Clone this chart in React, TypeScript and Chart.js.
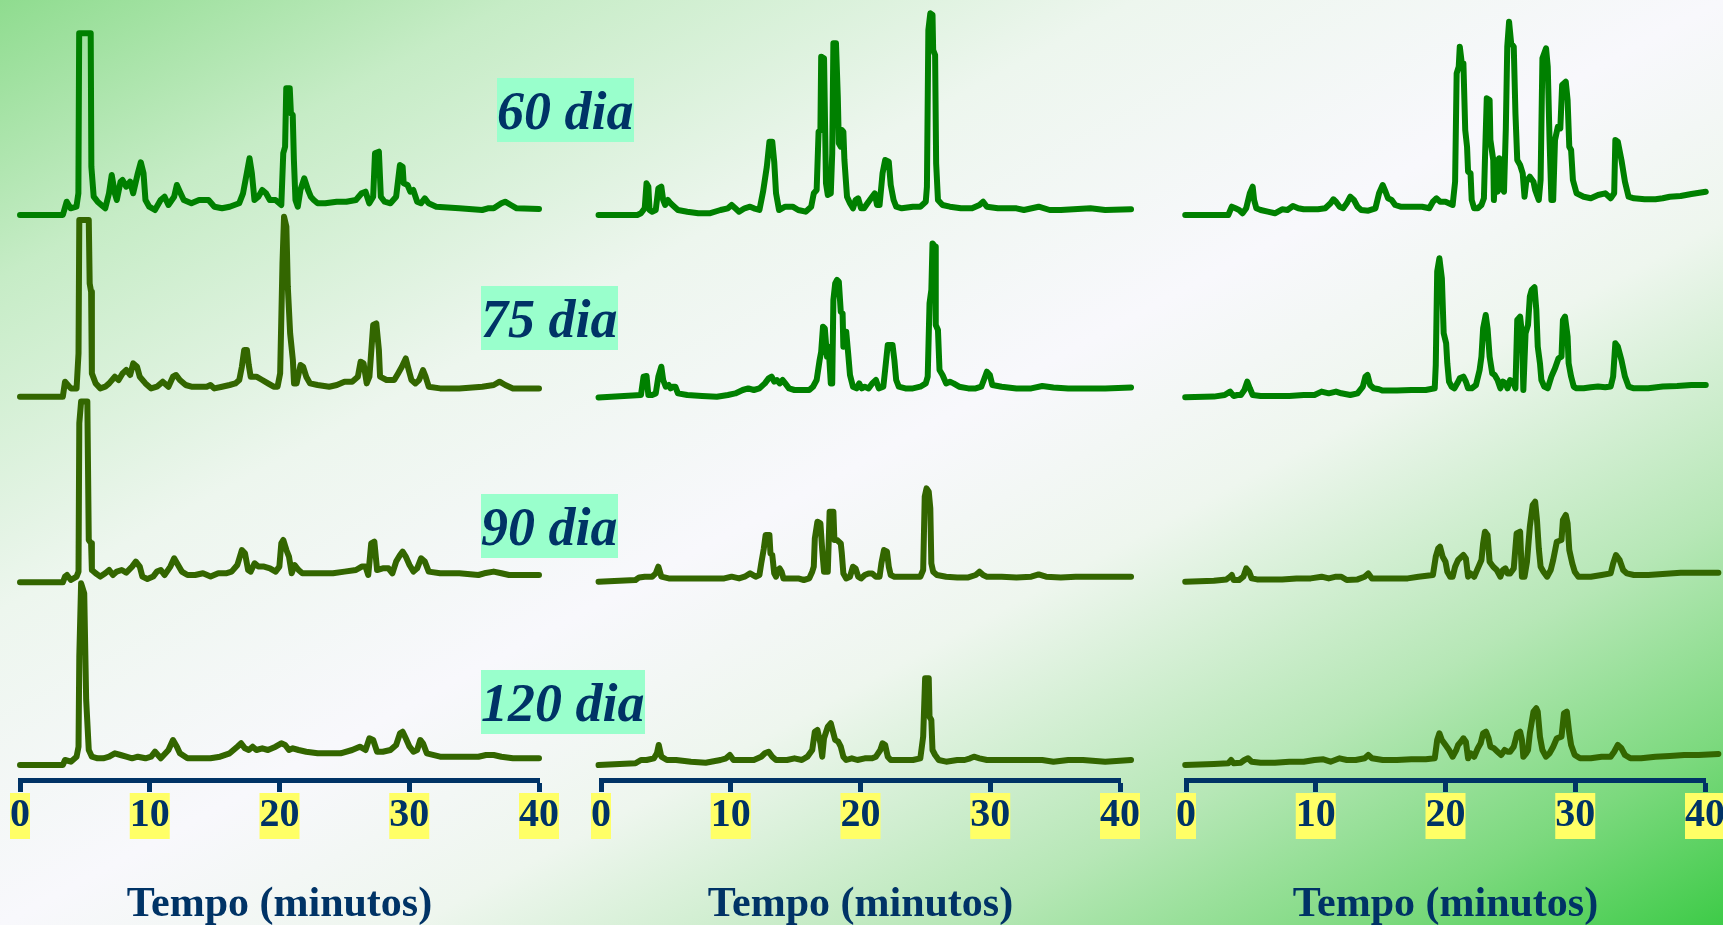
import React, { useEffect, useRef } from "react";
import { Chart, registerables } from "chart.js";

Chart.register(...registerables);

// [tempo (min), intensidade relativa]
type Point = [number, number];

const TEMPO_TICKS = [0, 10, 20, 30, 40];
const AXIS_TITLE = "Tempo (minutos)";
const DAY_LABELS = ["60 dia", "75 dia", "90 dia", "120 dia"];

// ---------- Painel 1 ----------
const P1_D60: Point[] = [
  [0, 0], [3.3, 0], [3.6, 13.3], [3.9, 6.7], [4.35, 8.3], [4.5, 21.7], [4.56, 181.7], [5.45, 181.7], [5.5, 48.3],
  [5.68, 18.3], [5.98, 13.3], [6.27, 10], [6.57, 6.7], [6.86, 21.7], [7.07, 40], [7.31, 21.7], [7.46, 15], [7.75, 33.3],
  [7.9, 35], [8.19, 28.3], [8.49, 33.3], [8.72, 21.7], [9.08, 41.7], [9.31, 52.7], [9.52, 41.7], [9.67, 15], [9.96, 8.3],
  [10.4, 5], [10.84, 15], [11.14, 18.3], [11.44, 10], [11.88, 18.3], [12.09, 30], [12.32, 23.3], [12.62, 15], [13.21, 11.7],
  [13.8, 15], [14.53, 15], [14.98, 8.3], [15.57, 6.7], [16.16, 8.3], [16.89, 11.7], [17.19, 21.7], [17.48, 41.7], [17.69, 56.7],
  [17.87, 41.7], [18.07, 15], [18.37, 18.3], [18.67, 25], [18.96, 21.7], [19.25, 15], [19.69, 15], [20.14, 10], [20.29, 61.7],
  [20.43, 68.3], [20.52, 126.7], [20.79, 126.7], [20.88, 101.7], [21.02, 100], [21.11, 55], [21.23, 15], [21.41, 8.3],
  [21.61, 25], [21.91, 36.7], [22.2, 25], [22.41, 18.3], [22.64, 15], [22.94, 11.7], [23.53, 11.7], [24.41, 13.3],
  [25.15, 13.3], [25.89, 15], [26.33, 21.7], [26.63, 23.3], [26.92, 11.7], [27.22, 18.3], [27.36, 61.7], [27.66, 63.3],
  [27.81, 18.3], [28.1, 13.3], [28.55, 11.7], [28.99, 18.3], [29.28, 50], [29.49, 48.3], [29.57, 31.7], [29.87, 30],
  [30.08, 23.3], [30.31, 25], [30.61, 13.3], [30.9, 11.7], [31.2, 16.7], [31.49, 11.7], [32.08, 8.3], [33.85, 6.7],
  [35.62, 5], [36.06, 6.7], [36.51, 6.7], [37.1, 11.7], [37.39, 13.3], [37.83, 10], [38.28, 6.7], [40, 6],
];

const P1_D75: Point[] = [
  [0, 0], [3.3, 0], [3.47, 15], [3.92, 8.3], [4.36, 8.3], [4.51, 43.3], [4.57, 176.7], [5.3, 176.7], [5.37, 113.3],
  [5.48, 105], [5.54, 23.3], [5.83, 13.3], [6.19, 8.3], [6.57, 10], [6.87, 13.3], [7.31, 20], [7.6, 16.7], [7.9, 23.3],
  [8.19, 26.7], [8.49, 21.7], [8.73, 33.3], [9.02, 30], [9.23, 20], [9.67, 13.3], [10.11, 8.3], [10.55, 10], [11.0, 15],
  [11.44, 10], [11.79, 20], [12.03, 21.7], [12.32, 16.7], [12.77, 11.7], [13.21, 10], [13.8, 10], [14.39, 10], [14.68, 11.7],
  [14.98, 8.3], [15.57, 10], [16.16, 11.7], [16.6, 13.3], [16.9, 16.7], [17.1, 30], [17.28, 46.7], [17.49, 46.7],
  [17.63, 31.7], [17.78, 20], [18.22, 20], [18.67, 16.7], [19.11, 13.3], [19.55, 10], [19.85, 10], [20.05, 23.3],
  [20.23, 133.3], [20.35, 180], [20.53, 170], [20.64, 110], [20.82, 63.3], [21.03, 36.7], [21.12, 13.3], [21.32, 13.3],
  [21.62, 31.7], [21.82, 30], [22.06, 20], [22.35, 13.3], [22.94, 11.7], [23.83, 10], [24.42, 11.7], [25.01, 15],
  [25.6, 15], [26.04, 20], [26.25, 35], [26.48, 33.3], [26.72, 13.3], [26.93, 20], [27.22, 71.7], [27.46, 73.3],
  [27.66, 46.7], [27.75, 20], [28.25, 16.7], [28.84, 16.7], [29.14, 23.3], [29.43, 30], [29.73, 38.3], [29.96, 26.7],
  [30.17, 16.7], [30.47, 13.3], [30.76, 16.7], [31.06, 26.7], [31.26, 20], [31.5, 10], [32.38, 8.3], [33.86, 8.3],
  [35.63, 10], [36.51, 11.7], [36.96, 15], [37.4, 11.7], [37.99, 8.3], [40, 8.3],
];

const P1_D90: Point[] = [
  [0, 0], [3.3, 0], [3.47, 5.7], [3.62, 7.3], [3.92, 2.3], [4.36, 5.7], [4.51, 10.7], [4.57, 159], [4.71, 180.7],
  [5.19, 180.7], [5.3, 42.3], [5.48, 39], [5.54, 12.3], [5.83, 9], [6.19, 5.7], [6.57, 9], [6.87, 12.3], [7.16, 7.3],
  [7.46, 10.7], [7.84, 12.3], [8.19, 9.7], [8.64, 15.7], [8.93, 20.7], [9.23, 15.7], [9.43, 5.7], [9.82, 3.3],
  [10.26, 5.7], [10.55, 10.7], [10.85, 12.3], [11.14, 7.3], [11.59, 15.7], [11.88, 24], [12.18, 17.3], [12.47, 10.7],
  [12.91, 7.3], [13.5, 7.3], [14.1, 9], [14.69, 5.7], [15.28, 9], [15.87, 9], [16.31, 10.7], [16.75, 17.3], [17.1, 32.3],
  [17.34, 29], [17.58, 12.3], [17.78, 10.7], [18.08, 19], [18.37, 15.7], [18.81, 15.7], [19.26, 14], [19.7, 10.7],
  [19.99, 15.7], [20.14, 39], [20.29, 42.3], [20.53, 32.3], [20.73, 25.7], [20.94, 9], [21.17, 17.3], [21.47, 12.3],
  [21.76, 9], [22.35, 9], [23.24, 9], [24.12, 9], [25.01, 10.7], [25.89, 12.3], [26.34, 15.7], [26.63, 15.7], [26.84, 7.3],
  [27.07, 39], [27.31, 40.7], [27.52, 12.3], [27.96, 14], [28.4, 14], [28.7, 9], [28.99, 20.7], [29.29, 27.3],
  [29.49, 30.7], [29.73, 25.7], [30.02, 17.3], [30.32, 10.7], [30.61, 14], [30.91, 24], [31.2, 20.7], [31.5, 10.7],
  [32.38, 9], [33.86, 9], [35.33, 7.3], [35.78, 9], [36.51, 10.7], [37.1, 9], [37.69, 7.3], [40, 7.3],
];

const P1_D120: Point[] = [
  [0, 0], [3.3, 0], [3.47, 5], [3.92, 3.3], [4.36, 8.3], [4.51, 18.3], [4.57, 108.3], [4.71, 181.7], [4.95, 171.7],
  [5.1, 65], [5.3, 15], [5.54, 8.3], [5.98, 6.7], [6.42, 6.7], [6.87, 8.3], [7.31, 11.7], [7.75, 10], [8.19, 8.3],
  [8.64, 6.7], [9.08, 8.3], [9.67, 6.7], [10.11, 8.3], [10.41, 13.3], [10.85, 6.7], [11.44, 15], [11.79, 25], [12.09, 18.3],
  [12.32, 11.7], [12.91, 6.7], [13.8, 6.7], [14.68, 6.7], [15.42, 8.3], [16.16, 11.7], [16.75, 18.3], [17.04, 21.7],
  [17.34, 16.7], [17.63, 15], [17.93, 18.3], [18.22, 15], [18.67, 16.7], [19.11, 15], [19.7, 18.3], [20.14, 21.7],
  [20.44, 20], [20.73, 15], [21.03, 16.7], [21.47, 15], [22.06, 13.3], [22.94, 11.7], [23.83, 11.7], [24.71, 11.7],
  [25.6, 15], [26.19, 18.3], [26.63, 15], [26.93, 26.7], [27.22, 25], [27.52, 13.3], [27.96, 13.3], [28.55, 15],
  [28.99, 20], [29.29, 31.7], [29.49, 33.3], [29.73, 26.7], [30.02, 18.3], [30.32, 13.3], [30.61, 15], [30.85, 25],
  [31.06, 21.7], [31.35, 11.7], [32.38, 8.3], [33.86, 8.3], [35.33, 8.3], [35.92, 10], [36.51, 10], [37.1, 8.3],
  [37.99, 6.7], [40, 6.7],
];

// ---------- Painel 2 ----------
const P2_D60: Point[] = [
  [-0.19, 0], [2.8, 0], [3.08, 1.7], [3.37, 6.7], [3.51, 31.7], [3.65, 28.3], [3.74, 5], [3.94, 3.3], [4.22, 5],
  [4.42, 26.7], [4.65, 28.3], [4.79, 15], [4.94, 10], [5.16, 15], [5.36, 11.7], [5.65, 8.3], [5.93, 5], [6.65, 3.3],
  [7.5, 1.7], [8.36, 1.7], [9.21, 5], [9.78, 6.7], [10.07, 10], [10.35, 6.7], [10.64, 3.3], [11.07, 6.7], [11.49, 8.3],
  [11.78, 6.7], [12.21, 5], [12.49, 23.3], [12.78, 48.3], [12.98, 73.3], [13.2, 73.3], [13.35, 53.3], [13.49, 21.7],
  [13.72, 5], [14.2, 8.3], [14.77, 8.3], [15.2, 5], [15.77, 3.3], [16.2, 8.3], [16.4, 21.7], [16.62, 25], [16.77, 83.3],
  [16.91, 85], [16.97, 158.3], [17.19, 156.7], [17.34, 31.7], [17.48, 20], [17.71, 21.7], [17.82, 61.7], [17.91, 171.7],
  [18.11, 171.7], [18.25, 118.3], [18.33, 71.7], [18.48, 68.3], [18.56, 85], [18.68, 83.3], [18.76, 55], [18.96, 18.3],
  [19.19, 11.7], [19.42, 6.7], [19.62, 15], [19.82, 16.7], [20.04, 6.7], [20.27, 6.7], [20.62, 13.3], [20.9, 18.3],
  [21.1, 21.7], [21.27, 10], [21.47, 10], [21.7, 41.7], [21.9, 55], [22.18, 53.3], [22.33, 30], [22.55, 15], [22.75, 8.3],
  [23.18, 6.7], [24.04, 8.3], [24.61, 8.3], [25.03, 13.3], [25.12, 28.3], [25.23, 185], [25.38, 201.7], [25.55, 200],
  [25.6, 165], [25.75, 160], [25.83, 51.7], [25.97, 15], [26.32, 10], [26.89, 8.3], [27.74, 6.7], [28.6, 6.7],
  [29.17, 10], [29.45, 13.3], [29.74, 8.3], [30.59, 6.7], [31.45, 6.7], [32.02, 6.7], [32.59, 5], [33.73, 8.3],
  [34.58, 5], [35.44, 5], [37.72, 6.7], [38.86, 5], [40.85, 5.7],
];

const P2_D75: Point[] = [
  [-0.19, -0.7], [3.08, 1.7], [3.28, 20], [3.51, 20.7], [3.65, 1.7], [3.94, 1.7], [4.22, 3.3], [4.42, 20], [4.65, 30],
  [4.79, 16.7], [4.99, 10], [5.22, 11.7], [5.36, 8.3], [5.51, 10], [5.73, 10], [5.93, 3.3], [6.65, 1.7], [7.79, 0.7],
  [8.93, 0], [9.78, 1.7], [10.35, 3.3], [10.92, 6.7], [11.35, 8.3], [11.78, 6.7], [12.21, 8.3], [12.63, 13.3],
  [12.92, 18.3], [13.15, 20], [13.35, 15], [13.55, 16.7], [13.77, 13.3], [14.0, 16.7], [14.2, 13.3], [14.49, 8.3],
  [14.91, 6.7], [15.48, 6.7], [16.05, 6.7], [16.34, 10], [16.62, 16.7], [16.85, 36.7], [16.97, 45], [17.11, 70],
  [17.25, 68.3], [17.42, 40], [17.54, 50], [17.71, 13.3], [17.82, 13.3], [17.91, 96.7], [18.05, 113.3], [18.19, 116.7],
  [18.33, 115], [18.48, 85], [18.62, 83.3], [18.68, 50], [18.76, 65], [18.9, 65], [19.05, 43.3], [19.19, 21.7],
  [19.42, 10], [19.7, 8.3], [19.9, 13.3], [20.1, 8.3], [20.33, 10], [20.62, 8.3], [20.9, 13.3], [21.19, 16.7],
  [21.41, 8.3], [21.76, 10], [21.98, 36.7], [22.1, 51.7], [22.47, 51.7], [22.61, 36.7], [22.75, 16.7], [22.95, 10],
  [23.46, 8.3], [24.04, 8.3], [24.61, 10], [25.03, 13.3], [25.18, 20], [25.32, 93.3], [25.46, 106.7], [25.55, 153.3],
  [25.75, 150], [25.8, 71.7], [25.97, 66.7], [26.09, 26.7], [26.32, 21.7], [26.6, 13.3], [26.89, 15], [27.17, 13.3],
  [27.6, 10], [28.31, 8.3], [28.88, 8.3], [29.31, 10], [29.6, 20], [29.74, 25], [29.97, 21.7], [30.16, 11.7],
  [30.88, 10], [32.02, 8.3], [33.16, 8.3], [34.01, 10.7], [34.87, 9.3], [36.01, 8.3], [37.15, 8.3], [38.86, 8.3],
  [40.85, 9.3],
];

const P2_D90: Point[] = [
  [-0.19, 0], [2.66, 1.7], [2.94, 4.3], [3.37, 5], [3.94, 5], [4.22, 8.3], [4.42, 15], [4.65, 5], [5.22, 3.3],
  [6.08, 3.3], [6.93, 3.3], [7.79, 3.3], [8.65, 3.3], [9.5, 3.3], [10.07, 5], [10.64, 3.3], [11.07, 5], [11.49, 8.3],
  [11.92, 5], [12.21, 6.7], [12.35, 18.3], [12.55, 33.3], [12.69, 46.7], [12.98, 46.7], [13.06, 28.3], [13.2, 26.7],
  [13.35, 8.3], [13.49, 5], [13.63, 11.7], [13.77, 13.3], [13.92, 10], [14.06, 3.3], [14.63, 3.3], [15.2, 3.3],
  [15.63, 1.7], [16.05, 3.3], [16.28, 10], [16.4, 15], [16.48, 43.3], [16.68, 60], [16.91, 58.3], [17.05, 31.7],
  [17.19, 10], [17.34, 10], [17.48, 10], [17.62, 70], [17.91, 70], [17.99, 41.7], [18.19, 41.7], [18.48, 38.3],
  [18.56, 28.3], [18.68, 8.3], [18.9, 3.3], [19.19, 5], [19.42, 15], [19.62, 13.3], [19.82, 5], [20.04, 3.3],
  [20.33, 6.7], [20.62, 8.3], [20.9, 8.3], [21.19, 5], [21.47, 5], [21.61, 18.3], [21.81, 31.7], [22.04, 30],
  [22.18, 15], [22.33, 6.7], [22.61, 5], [23.18, 5], [24.04, 5], [24.61, 5], [24.83, 11.7], [24.95, 85], [25.09, 93.3],
  [25.26, 90], [25.38, 73.3], [25.46, 18.3], [25.6, 10], [25.89, 6.7], [26.6, 5], [27.46, 4.3], [28.31, 4.3],
  [28.88, 6.7], [29.17, 10], [29.45, 6.7], [29.74, 5], [30.88, 5], [32.02, 4.3], [33.16, 5], [33.73, 7.3], [34.3, 5],
  [35.44, 4.3], [36.58, 5], [38.29, 5], [40.85, 5],
];

const P2_D120: Point[] = [
  [-0.19, 0], [2.66, 1.7], [3.08, 5], [3.51, 5], [4.08, 6.7], [4.31, 11.7], [4.45, 20], [4.65, 8.3], [5.08, 5],
  [5.79, 5], [6.93, 3.3], [8.07, 2.3], [9.21, 5], [9.64, 6.7], [9.93, 10], [10.21, 5], [10.92, 5], [11.78, 5],
  [12.35, 8.3], [12.63, 11.7], [12.92, 13.3], [13.2, 8.3], [13.49, 5], [14.34, 5], [14.91, 6.7], [15.48, 5],
  [15.91, 8.3], [16.28, 15], [16.48, 33.3], [16.68, 35], [16.91, 21.7], [17.05, 8.3], [17.19, 26.7], [17.48, 38.3],
  [17.71, 41.7], [17.91, 31.7], [18.05, 25], [18.28, 23.3], [18.48, 18.3], [18.68, 8.3], [18.9, 5], [19.33, 6.7],
  [19.76, 5], [20.33, 6.7], [20.9, 6.7], [21.19, 8.3], [21.53, 15], [21.7, 21.7], [21.9, 20], [22.1, 8.3], [22.33, 5],
  [23.18, 5], [24.04, 5], [24.61, 6.7], [24.83, 28.3], [24.98, 86.7], [25.26, 86.7], [25.32, 48.3], [25.46, 45],
  [25.55, 15], [25.75, 10], [26.03, 5], [26.6, 3.3], [27.46, 5], [28.03, 5], [28.45, 6.7], [28.74, 8.3], [29.17, 6.7],
  [29.74, 5], [30.88, 5], [32.02, 5], [33.16, 5], [34.01, 5], [34.87, 3.3], [36.01, 5], [37.15, 5], [38.86, 3.3],
  [40.85, 5],
];

// ---------- Painel 3 ----------
const P3_D60: Point[] = [
  [-0.06, 0], [3.26, 0], [3.53, 8.3], [3.81, 6.7], [4.09, 5], [4.36, 1.7], [4.64, 6.7], [4.92, 21.7], [5.14, 28.3],
  [5.25, 15], [5.42, 6.7], [5.75, 5], [6.3, 3.3], [6.85, 1.7], [7.41, 5.7], [7.82, 5], [8.24, 9], [8.65, 6.7],
  [9.07, 5.7], [9.62, 5.7], [10.17, 5.7], [10.73, 6.7], [11.14, 11.7], [11.36, 15.7], [11.56, 13.3], [11.84, 8.3],
  [12.11, 6.7], [12.39, 11.7], [12.66, 18.3], [12.94, 15], [13.22, 8.3], [13.5, 5], [14.05, 4.3], [14.6, 6.7],
  [14.88, 21.7], [15.16, 30], [15.38, 23.3], [15.57, 16.7], [15.85, 15], [16.12, 10], [16.54, 8.3], [17.37, 8.3],
  [18.2, 8.3], [18.75, 6.7], [19.03, 13.3], [19.31, 16.7], [19.58, 13.3], [20.0, 13.3], [20.55, 10], [20.74, 33.3],
  [20.86, 141.7], [21.02, 148.3], [21.1, 168.3], [21.24, 153.3], [21.38, 151.7], [21.52, 85], [21.66, 68.3],
  [21.74, 43.3], [21.93, 41.7], [22.02, 15], [22.21, 6.7], [22.49, 6.7], [22.77, 10], [22.96, 16.7], [23.04, 55],
  [23.18, 116.7], [23.4, 115], [23.46, 75], [23.68, 55], [23.73, 15], [23.87, 55], [24.01, 23.3], [24.15, 56.7],
  [24.34, 26.7], [24.51, 23.3], [24.65, 86.7], [24.76, 168.3], [24.9, 193.3], [25.06, 171.7], [25.26, 168.3],
  [25.39, 101.7], [25.53, 55], [25.75, 50], [25.95, 41.7], [26.09, 18.3], [26.22, 33.3], [26.5, 38.3], [26.78, 33.3],
  [26.91, 25], [27.19, 15], [27.33, 35], [27.47, 156.7], [27.75, 166.7], [27.88, 148.3], [28.02, 75], [28.16, 15],
  [28.3, 15], [28.44, 75], [28.66, 88.3], [28.85, 86.7], [28.99, 130], [29.27, 133.3], [29.41, 115], [29.54, 68.3],
  [29.68, 65], [29.82, 35], [30.1, 21.7], [30.65, 18.3], [31.2, 16.7], [31.76, 20], [32.31, 21.7], [32.73, 16.7],
  [33.0, 21.7], [33.09, 75], [33.28, 73.3], [33.56, 55], [33.83, 33.3], [34.11, 18.3], [34.52, 16.7], [35.35, 15.7],
  [36.18, 15.7], [36.74, 16.7], [37.29, 18.3], [38.12, 19], [38.95, 21], [40.06, 23.3], [41.03, 23.3],
];

const P3_D75: Point[] = [
  [-0.06, 0], [2.15, 0.7], [2.98, 2.3], [3.4, 5.7], [3.67, 1.3], [3.95, 2.3], [4.23, 2.3], [4.5, 7.3], [4.72, 15.7],
  [4.92, 9], [5.14, 2.3], [5.75, 1.3], [6.85, 1.3], [7.96, 1.3], [9.07, 2.3], [9.9, 2.3], [10.45, 5.7], [11.0, 4],
  [11.56, 5.7], [11.97, 4], [12.66, 2.3], [13.22, 4], [13.63, 10.7], [13.83, 20.7], [13.99, 22.3], [14.19, 12.3],
  [14.46, 9], [14.88, 8], [15.16, 6.7], [16.26, 6.7], [17.37, 7.3], [18.48, 7.3], [19.17, 9], [19.25, 32.3],
  [19.36, 125.7], [19.53, 139], [19.72, 119], [19.86, 64], [20.05, 54], [20.14, 34], [20.27, 15.7], [20.47, 10.7],
  [20.69, 9], [20.91, 14], [21.1, 19], [21.38, 20.7], [21.57, 15.7], [21.74, 9], [22.02, 9], [22.35, 12.3],
  [22.63, 27.3], [22.77, 40.7], [22.9, 69], [23.1, 82.3], [23.24, 69], [23.4, 40.7], [23.6, 24], [23.79, 22.3],
  [24.01, 17.3], [24.23, 9], [24.42, 15.7], [24.62, 14], [24.78, 9], [24.98, 17.3], [25.26, 14], [25.39, 9],
  [25.53, 77.3], [25.75, 80.7], [25.89, 64], [26.0, 7.3], [26.17, 64], [26.36, 72.3], [26.5, 100.7], [26.64, 107.3],
  [26.86, 110], [27.0, 87.3], [27.11, 50.7], [27.28, 34], [27.39, 17.3], [27.61, 10.7], [27.88, 9], [28.16, 20.7],
  [28.44, 29], [28.71, 39], [28.94, 40.7], [29.05, 77.3], [29.21, 80.7], [29.41, 60.7], [29.49, 34], [29.68, 20.7],
  [29.88, 10.7], [30.1, 9], [30.65, 9], [31.2, 10], [31.76, 10.7], [32.31, 10], [32.73, 10.7], [32.92, 20.7],
  [33.09, 54], [33.28, 50.7], [33.56, 37.3], [33.83, 20.7], [34.11, 10.7], [34.52, 9], [35.63, 9], [36.74, 10.7],
  [37.85, 11.3], [38.95, 12.3], [40.06, 12.3], [41.03, 12.3],
];

const P3_D90: Point[] = [
  [-0.06, 0], [2.15, 1], [3.12, 2.3], [3.4, 5], [3.53, 6.7], [3.67, 1.7], [4.09, 1.7], [4.42, 5], [4.64, 13.3],
  [4.86, 10], [5.06, 3.3], [5.47, 2.3], [6.3, 2.3], [7.41, 2.3], [8.51, 3.3], [9.62, 3.3], [10.45, 5], [11.0, 3.3],
  [11.56, 5], [11.97, 5], [12.39, 1.7], [13.22, 2.3], [13.77, 5], [14.05, 8.3], [14.33, 3.3], [14.88, 3.3],
  [15.99, 3.3], [17.09, 3.3], [17.92, 5], [19.03, 6.7], [19.25, 25], [19.44, 33.3], [19.58, 35], [19.78, 25],
  [20.0, 20], [20.14, 10], [20.36, 5], [20.55, 5], [20.74, 15], [20.97, 21.7], [21.38, 26.7], [21.57, 23.3],
  [21.74, 5], [21.93, 8.3], [22.21, 5], [22.49, 13.3], [22.77, 21.7], [22.9, 38.3], [23.04, 50], [23.24, 46.7],
  [23.4, 20], [23.68, 15], [23.95, 11.7], [24.23, 5], [24.42, 11.7], [24.62, 13.3], [24.78, 8.3], [24.98, 8.3],
  [25.26, 13.3], [25.48, 48.3], [25.75, 50], [25.89, 5], [26.09, 5], [26.28, 20], [26.5, 55], [26.72, 76.7],
  [26.91, 80], [27.05, 61.7], [27.19, 33.3], [27.33, 15], [27.55, 10], [27.83, 5], [28.11, 11.7], [28.3, 21.7],
  [28.58, 40], [28.94, 41.7], [29.05, 61.7], [29.27, 66.7], [29.41, 58.3], [29.54, 31.7], [29.77, 18.3], [29.96, 10],
  [30.24, 5], [31.2, 5], [32.03, 6.7], [32.73, 8.3], [32.92, 18.3], [33.14, 26.7], [33.42, 21.7], [33.69, 11.7],
  [33.97, 8.3], [34.52, 6.7], [35.63, 6.7], [36.74, 7.7], [38.12, 9], [39.51, 9], [41.03, 9],
];

const P3_D120: Point[] = [
  [-0.06, 0], [2.15, 1], [3.26, 1.7], [3.48, 5], [3.67, 1.7], [4.23, 2.3], [4.5, 5], [4.78, 6.7], [5.06, 3.3],
  [5.75, 2.3], [6.85, 2.3], [7.96, 3.3], [9.07, 3.3], [9.9, 5], [10.59, 5.7], [11.14, 3.3], [11.84, 6.7], [12.39, 5],
  [13.08, 5], [13.77, 6.7], [14.05, 10], [14.33, 6.7], [15.16, 5], [16.26, 5], [17.37, 5.7], [18.48, 5.7],
  [19.17, 6.7], [19.36, 25], [19.53, 31.7], [19.72, 25], [20.0, 20], [20.27, 15], [20.55, 8.3], [20.83, 15],
  [20.97, 20], [21.19, 23.3], [21.38, 26.7], [21.57, 23.3], [21.74, 6.7], [21.93, 11.7], [22.21, 8.3], [22.49, 16.7],
  [22.71, 21.7], [22.9, 31.7], [23.12, 33.3], [23.32, 26.7], [23.46, 18.3], [23.73, 16.7], [24.01, 13.3], [24.29, 10],
  [24.56, 15], [24.78, 13.3], [24.98, 13.3], [25.26, 18.3], [25.53, 31.7], [25.75, 33.3], [25.89, 25], [26.0, 8.3],
  [26.22, 11.7], [26.36, 15], [26.5, 31.7], [26.78, 53.3], [27.0, 56.7], [27.11, 53.3], [27.28, 28.3], [27.47, 15],
  [27.75, 8.3], [28.02, 11.7], [28.3, 18.3], [28.58, 26.7], [28.94, 28.3], [29.13, 51.7], [29.35, 53.3], [29.54, 31.7],
  [29.68, 20], [29.96, 10], [30.37, 6.7], [31.2, 6.7], [32.03, 8.3], [32.73, 8.3], [33.0, 13.3], [33.28, 20],
  [33.56, 16.7], [33.83, 10], [34.25, 6.7], [35.08, 6.7], [36.18, 8.3], [37.29, 9], [38.4, 10], [39.51, 10], [41.03, 11],
];

// ---------- Estilo e layout ----------
const GREEN = "#008000";
const OLIVE = "#336600";
const NAVY = "#003366";
const SERIF = '"Liberation Serif", "Times New Roman", serif';

const PAGE_W = 1723;
const PAGE_H = 925;
const PLOT_BOTTOM = 780; // posição do eixo do tempo

type PanelCfg = {
  left: number;
  width: number;
  x0: number;
  x40: number;
  series: Point[][];
  colors: string[];
  baselines: number[];
};

const PANELS: PanelCfg[] = [
  {
    left: 0, width: 580, x0: 20, x40: 539,
    series: [P1_D60, P1_D75, P1_D90, P1_D120],
    colors: [GREEN, OLIVE, OLIVE, OLIVE],
    baselines: [215, 396.7, 582.3, 765],
  },
  {
    left: 560, width: 590, x0: 601, x40: 1120,
    series: [P2_D60, P2_D75, P2_D90, P2_D120],
    colors: [GREEN, GREEN, OLIVE, OLIVE],
    baselines: [215, 396.7, 581.7, 765],
  },
  {
    left: 1150, width: 600, x0: 1186, x40: 1705,
    series: [P3_D60, P3_D75, P3_D90, P3_D120],
    colors: [GREEN, GREEN, OLIVE, OLIVE],
    baselines: [215, 397.3, 581.7, 765],
  },
];

const LABEL_POS = [
  { left: 497, top: 78 },
  { left: 481, top: 286 },
  { left: 481, top: 494 },
  { left: 481, top: 670 },
];

function Chromatogram({ cfg }: { cfg: PanelCfg }) {
  const ref = useRef<HTMLCanvasElement | null>(null);

  useEffect(() => {
    const canvas = ref.current;
    if (!canvas) return;

    const scales: any = {
      x: {
        type: "linear",
        min: 0,
        max: 40,
        afterBuildTicks: (s: any) => {
          s.ticks = TEMPO_TICKS.map((v) => ({ value: v }));
        },
        afterFit: (s: any) => {
          s.height = PAGE_H - PLOT_BOTTOM;
        },
        grid: {
          drawOnChartArea: false,
          drawTicks: true,
          tickLength: 12,
          tickWidth: 5,
          tickColor: NAVY,
        },
        border: { display: true, width: 5, color: NAVY },
        ticks: {
          color: NAVY,
          font: { family: SERIF, size: 40, weight: "bold", lineHeight: 1.15 },
          padding: 1,
          showLabelBackdrop: true,
          backdropColor: "#FFFF66",
          backdropPadding: 0,
          maxRotation: 0,
          autoSkip: false,
        },
        title: {
          display: true,
          text: AXIS_TITLE,
          color: NAVY,
          font: { family: SERIF, size: 42, weight: "bold" },
          padding: { top: 0, bottom: -5 },
        },
      },
    };

    cfg.series.forEach((_, i) => {
      scales["y" + i] = {
        type: "linear",
        display: false,
        min: cfg.baselines[i] - PLOT_BOTTOM,
        max: cfg.baselines[i],
      };
    });

    const chart = new Chart(canvas, {
      type: "line",
      data: {
        datasets: cfg.series.map((pts, i) => ({
          label: DAY_LABELS[i],
          data: pts.map(([x, y]) => ({ x, y })),
          yAxisID: "y" + i,
          borderColor: cfg.colors[i],
          borderWidth: 6,
          pointRadius: 0,
          tension: 0,
          fill: false,
          clip: false as any,
          borderJoinStyle: "round",
          borderCapStyle: "round",
        })),
      },
      options: {
        responsive: false,
        animation: false,
        events: [],
        layout: {
          padding: {
            left: cfg.x0 - cfg.left,
            right: cfg.left + cfg.width - cfg.x40,
            top: 0,
            bottom: 0,
          },
        },
        plugins: { legend: { display: false }, tooltip: { enabled: false } },
        scales,
      } as any,
    });

    return () => chart.destroy();
  }, [cfg]);

  return (
    <canvas
      ref={ref}
      width={cfg.width}
      height={PAGE_H}
      style={{ position: "absolute", left: cfg.left, top: 0 }}
    />
  );
}

export default function App() {
  return (
    <div
      style={{
        position: "fixed",
        left: 0,
        top: 0,
        width: PAGE_W,
        height: PAGE_H,
        overflow: "hidden",
        background:
          "linear-gradient(to bottom right, #8fdc8f 0%, #c6ecc6 15%, #edf6ee 33%, #f8f8fc 50%, #eef6ee 62%, #b6e7b6 78%, #7cd97e 90%, #3ecb48 100%)",
      }}
    >
      {PANELS.map((p, i) => (
        <Chromatogram key={i} cfg={p} />
      ))}
      {DAY_LABELS.map((text, i) => (
        <div
          key={text}
          style={{
            position: "absolute",
            left: LABEL_POS[i].left,
            top: LABEL_POS[i].top,
            height: 64,
            lineHeight: "66px",
            background: "#99FFCC",
            color: NAVY,
            fontFamily: SERIF,
            fontStyle: "italic",
            fontWeight: "bold",
            fontSize: 54,
            whiteSpace: "nowrap",
            overflow: "hidden",
          }}
        >
          {text}
        </div>
      ))}
    </div>
  );
}
